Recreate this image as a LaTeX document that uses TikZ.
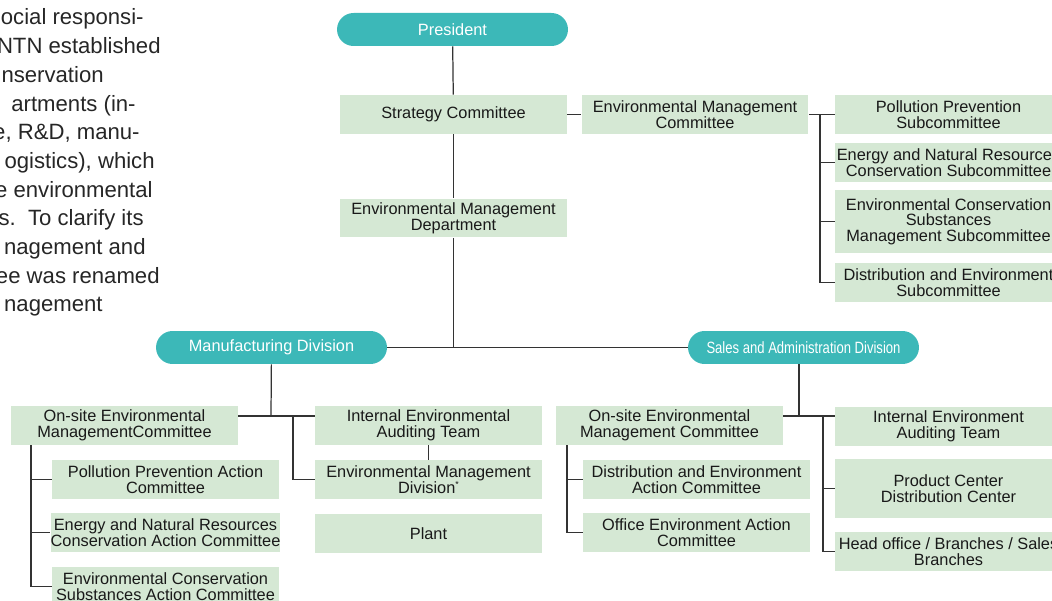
\documentclass[tikz,border=0pt]{standalone}
\usepackage{fontspec}
\setmainfont{Liberation Sans}
\usepackage{graphicx}
\usetikzlibrary{positioning,calc}

\definecolor{pillteal}{RGB}{60,184,184}
\definecolor{boxgreen}{RGB}{213,232,212}
\definecolor{inkgray}{RGB}{51,51,51}
\newcommand\boxfont{\fontsize{9.3}{8.9}\selectfont}
\newcommand\introfont{\fontsize{12.6}{15.4}\selectfont}

\begin{document}
\begin{tikzpicture}[x=0.02cm,y=-0.02cm,
  box/.style={fill=boxgreen,minimum width=4.54cm,minimum height=0.78cm,inner sep=0pt,align=center,font=\boxfont,text=black!90},
  pill/.style={fill=pillteal,rounded corners=0.33cm,minimum width=4.62cm,minimum height=0.66cm,inner sep=0pt,text=white,font=\boxfont},
  line/.style={draw=inkgray,line width=0.7pt},
  intro/.style={anchor=base east,inner sep=0pt,font=\introfont,text=black!85}]

\useasboundingbox (0,0) rectangle (1052,601);
\clip (0,0) rectangle (1052,601);

% text column, cut at the page edge
\node[intro] (t1) at (144,25) {ocial responsi-};
\node[intro] (t2) at (161,53.7) {NTN established};
\node[intro] (t3) at (104,82.4) {nservation};
\node[intro] (t4) at (136,111.1) {artments (in-};
\node[intro] (t5) at (140,139.8) {e, R\&D, manu-};
\node[intro] (t6) at (155,168.5) {ogistics), which};
\node[intro] (t7) at (153,197.2) {e environmental};
\node[intro] (t8) at (144,225.9) {s.\ \ To clarify its};
\node[intro] (t9) at (146,254.6) {nagement and};
\node[intro] (t10) at (160,283.3) {ee was renamed};
\node[intro] (t11) at (103,312) {nagement};

% top of the chart
\node[pill] (pres) at (452.5,29.5) {President};
\node[box] (strat) at (453.5,114.5) {Strategy Committee};
\node[box] (emc) at (695,114.5) {Environmental Management\\Committee};
\node[box] (emd) at (453.5,218) {Environmental Management\\Department};

\node[box] (ppsub) at (948.5,114.5) {Pollution Prevention\\Subcommittee};
\node[box] (ensub) at (948.5,162.5) {Energy and Natural Resources\\Conservation Subcommittee};
\node[box,minimum height=1.26cm] (ecssub) at (948.5,221.5) {Environmental Conservation\\Substances\\Management Subcommittee};
\node[box] (desub) at (948.5,282.5) {Distribution and Environment\\Subcommittee};

% divisions
\node[pill] (manu) at (271.5,347.5) {Manufacturing Division};
\node[pill] (sales) at (803.5,347.5) {\scalebox{0.8}[1]{Sales and Administration Division}};

% manufacturing side
\node[box] (osm) at (124.5,425.5) {On-site Environmental\\ManagementCommittee};
\node[box] (iat) at (428.5,425.5) {Internal Environmental\\Auditing Team};
\node[box] (emdiv) at (428.5,479.5) {Environmental Management\\Division\raisebox{0.6ex}{\tiny *}};
\node[box] (plant) at (428.5,533.5) {Plant};
\node[box] (ppac) at (165.5,479.5) {Pollution Prevention Action\\Committee};
\node[box] (enac) at (165.5,532.5) {Energy and Natural Resources\\Conservation Action Committee};
\node[box] (ecsac) at (165.5,586.5) {Environmental Conservation\\Substances Action Committee};

% sales side
\node[box] (sosm) at (669.5,425.5) {On-site Environmental\\Management Committee};
\node[box] (deac) at (696.5,479.5) {Distribution and Environment\\Action Committee};
\node[box] (oeac) at (696.5,532.5) {Office Environment Action\\Committee};
\node[box] (siat) at (948.5,426.5) {Internal Environment\\Auditing Team};
\node[box,minimum height=1.18cm] (pcdc) at (948.5,488.5) {Product Center\\Distribution Center};
\node[box] (hob) at (948.5,551.5) {Head office / Branches / Sales\\Branches};

% connectors
\draw[line] (pres) -- (strat);
\draw[line] (strat) -- (emd);
\draw[line] (strat) -- (emc);
\draw[line] (emd) -- (emd |- manu);
\draw[line] (manu) -- (sales);

\coordinate (eb) at (820,0);
\draw[line] (emc) -- (ppsub);
\draw[line] (ppsub.west -| eb) |- (desub.west);
\draw[line] (ensub.west -| eb) -- (ensub.west);
\draw[line] (ecssub.west -| eb) -- (ecssub.west);

\coordinate (mj) at (271,416);
\coordinate (mb) at (293,416);
\coordinate (lb) at (31,0);
\draw[line] (manu) -- (mj);
\draw[line] (osm.east |- mj) -- (iat.west |- mj);
\draw[line] (mb) |- (emdiv.west);
\draw[line] (iat) -- (emdiv);
\draw[line] (osm.south -| lb) |- (ecsac.west);
\draw[line] (ppac.west -| lb) -- (ppac.west);
\draw[line] (enac.west -| lb) -- (enac.west);

\coordinate (sj) at (799,416);
\coordinate (sb) at (823,416);
\coordinate (rb) at (567,0);
\draw[line] (sales.south -| sj) -- (sj);
\draw[line] (sosm.east |- sj) -- (siat.west |- sj);
\draw[line] (sb) |- (hob.west);
\draw[line] (pcdc.west -| sb) -- (pcdc.west);
\draw[line] (sosm.south -| rb) |- (oeac.west);
\draw[line] (deac.west -| rb) -- (deac.west);

\end{tikzpicture}
\end{document}
